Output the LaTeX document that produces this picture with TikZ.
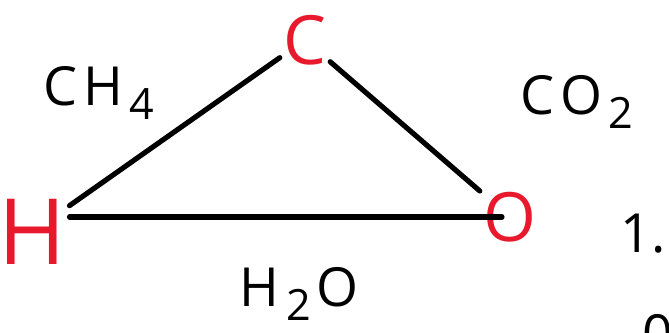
\documentclass[tikz,border=0pt]{standalone}
\usepackage{fontspec}
\setmainfont{Open Sans}
\usetikzlibrary{positioning}
\definecolor{inkred}{HTML}{E8192C}
\definecolor{ink}{HTML}{000000}
\newcommand{\idx}[1]{\kern0.12em\raisebox{-0.25em}{\scalebox{0.8}{#1}}}
\tikzset{
  atom/.style={text=inkred,font=\fontsize{58}{62}\selectfont,inner sep=3pt},
  mol/.style={text=ink,font=\fontsize{46}{50}\selectfont,inner sep=2pt},
  bond/.style={draw=ink,line width=4.4pt,line cap=round,line join=round}
}
\begin{document}
\begin{tikzpicture}[x=0.03cm,y=-0.03cm]
\useasboundingbox (0,0) rectangle (669,332);
\clip (0,0) rectangle (669,332);
% atoms
\node[atom] (c) at (305,40) {C};
\node[atom,font=\fontsize{78}{80}\selectfont] (h) at (32,232) {H};
\node[atom] (o) at (510,217) {O};
% molecules
\node[mol] (ch4) at (99,93) {C\kern0.1em H\idx{4}};
\node[mol] (co2) at (577,102) {C\kern0.1em O\idx{2}};
\node[mol] (h2o) at (299,294) {H\idx{2}\kern0.1em O};
% at the edge
\node[mol,anchor=east] (one) at (668,234) {1.};
\node[mol,anchor=north west] (zero) at (640,312) {0};
% bonds
\draw[bond] (c) -- (h);
\draw[bond] (c) -- (o);
\draw[bond,shorten >=0.24cm] (h.east |- o) -- (o.center);
\end{tikzpicture}
\end{document}
